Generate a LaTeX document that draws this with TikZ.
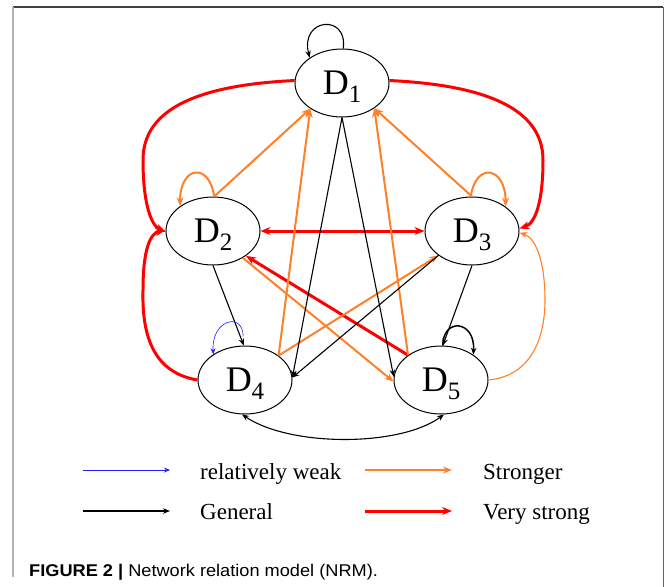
\documentclass[tikz,border=0pt]{standalone}
\usepackage{fontspec}
\setmainfont{Liberation Serif}
\newfontfamily\capfont{Liberation Sans}
\usetikzlibrary{arrows.meta,shapes.geometric}
\definecolor{vred}{RGB}{255,0,0}
\definecolor{orng}{RGB}{255,128,40}
\definecolor{wblue}{RGB}{30,30,255}
\newcommand\dlab[1]{\fontsize{36}{40}\selectfont D\smash{\raisebox{-8pt}{\fontsize{25}{25}\selectfont #1}}}
\tikzset{
 dnode/.style={ellipse, draw, line width=1pt, minimum width=94pt, minimum height=68pt, inner sep=0pt},
 gen/.style={line width=1.1pt, -{Stealth[length=7pt,width=5.5pt]}},
 gen2/.style={line width=1.1pt, {Stealth[length=7pt,width=5.5pt]}-{Stealth[length=7pt,width=5.5pt]}},
 strg/.style={orng, line width=2pt, -{Stealth[length=9pt,width=7pt]}},
 strthin/.style={orng, line width=1.1pt, -{Stealth[length=8pt,width=6pt]}},
 vstr/.style={vred, line width=3pt, -{Stealth[length=10pt,width=8pt]}},
 vstr2/.style={vred, line width=3pt, {Stealth[length=10pt,width=8pt]}-{Stealth[length=10pt,width=8pt]}},
 wk/.style={wblue, line width=0.6pt, -{Stealth[length=6pt,width=5pt]}},
 legtext/.style={anchor=base west, inner sep=0pt, font=\fontsize{23}{26}\selectfont},
}
\begin{document}
\begin{tikzpicture}[x=1pt,y=-1pt]
\useasboundingbox (0,0) rectangle (665,587);
% frame
\draw[black!75, line width=1.2pt] (13,7) -- (663,7);
\draw[black!30, line width=1.5pt] (13,7) -- (13,577);
\draw[black!60, line width=1pt] (663,7) -- (663,587);

% nodes
\node[dnode] (D1) at (342,83) {\dlab{1}};
\node[dnode] (D2) at (213,231) {\dlab{2}};
\node[dnode] (D3) at (472,231) {\dlab{3}};
\node[dnode] (D4) at (245,380) {\dlab{4}};
\node[dnode] (D5) at (441,380) {\dlab{5}};

% very strong (red)
\draw[vstr] (D1.177) .. controls (200,85) and (143,108) .. (143,160) .. controls (143,200) and (150,225) .. (D2.181);
\draw[vstr] (D4.180) .. controls (150,372) and (142,330) .. (143,290) .. controls (143,250) and (150,233) .. (D2.179);
\draw[vstr] (D1.3) .. controls (484,85) and (543,108) .. (543,160) .. controls (543,200) and (536,223) .. (D3.3);
\draw[vstr2] (D2.0) -- (D3.180);
\draw[vstr] (D5.143) -- (D2.323);

% stronger (orange)
\draw[strthin] (D5.0) .. controls (530,376) and (545,340) .. (545,300) .. controls (545,262) and (536,238) .. (D3.358);
\draw[strg] (D2.88) -- (D1.219);
\draw[strg] (D4.36) -- (D1.219);
\draw[strg] (D3.90) -- (D1.322);
\draw[strg] (D5.143) -- (D1.322);
\draw[strg] (D4.36) -- (D3.216);
\draw[strg] (D2.318) -- (D5.182);
\draw[strg] (D2.88) .. controls +(-5,-35) and +(0,-40) .. (D2.143);
\draw[strg] (D3.92) .. controls +(5,-35) and +(0,-40) .. (D3.36);

% general (black)
\draw[gen] (D1.88) .. controls +(5,-35) and +(-10,-40) .. (D1.142);
\draw[gen] (D1.270) -- (D4.3);
\draw[gen] (D1.270) -- (D5.176);
\draw[gen] (D3.216) -- (D4.3);
\draw[gen] (D2.270) -- (D4.92);
\draw[gen] (D3.270) -- (D5.87);
\draw[gen, line width=1.5pt] (D5.87) .. controls +(0,-28) and +(2,-35) .. (D5.38);
\draw[gen2] (D4.265) .. controls (290,447) and (400,447) .. (D5.275);

% relatively weak (blue)
\draw[wk] ([yshift=9pt]D4.93) .. controls +(0,-25) and +(-2,-35) .. (D4.141);

% legend
\coordinate (lw1) at (83,470); \coordinate (lw2) at (170,470);
\coordinate (ls1) at (365,470); \coordinate (ls2) at (452,470);
\coordinate (lg1) at (83,511); \coordinate (lg2) at (170,511);
\coordinate (lv1) at (365,511); \coordinate (lv2) at (452,511);
\draw[wk, line width=0.8pt] (lw1) -- (lw2);
\draw[strg] (ls1) -- (ls2);
\draw[gen] (lg1) -- (lg2);
\draw[vstr] (lv1) -- (lv2);
\node[legtext] (tw) at (200,479) {relatively weak};
\node[legtext] (ts) at (483,479) {Stronger};
\node[legtext] (tg) at (200,519) {General};
\node[legtext] (tv) at (483,519) {Very strong};

% caption
\node[anchor=base west, inner sep=0pt, font=\capfont\fontsize{17}{19}\selectfont] (cap) at (29,576) {\scalebox{1.07}[1]{\textbf{FIGURE 2} \textbf{|} Network relation model (NRM).}};
\end{tikzpicture}
\end{document}
